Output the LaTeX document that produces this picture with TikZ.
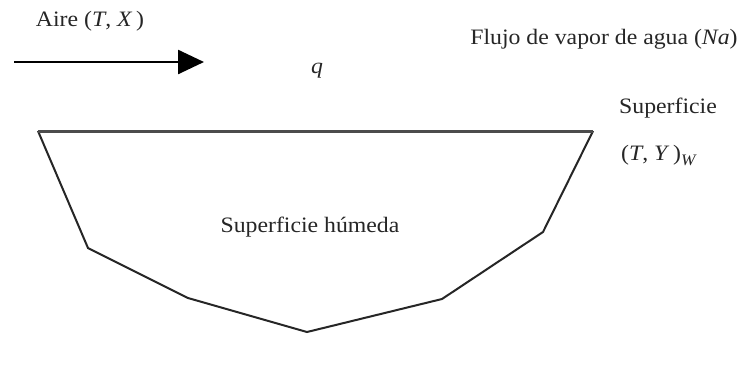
\documentclass[tikz,border=0pt]{standalone}
\usepackage{fontspec}
\setmainfont[FakeStretch=1.08]{Liberation Serif}
\usetikzlibrary{arrows.meta}
\begin{document}
\begin{tikzpicture}[x=1pt,y=-1pt,
  lbl/.style={font=\fontsize{22}{26}\selectfont, text=black!85, inner sep=0pt},
  edge/.style={line width=2pt, draw=black!85, line join=miter}]
\useasboundingbox (0,0) rectangle (749,365);
\fill[white] (0,0) rectangle (749,365);
% arrow
\coordinate (a0) at (14,62);
\coordinate (a1) at (204,62);
\draw[line width=2.6pt, -{Triangle[length=26pt,width=24pt]}] (a0) -- (a1);
\node[lbl] (aire) at (90,21) {Aire (\textit{T},\ \textit{X}\,)};
\node[lbl] (q) at (317,71) {\textit{q}};
\node[lbl] (flujo) at (604,39) {Flujo de vapor de agua (\textit{Na})};
\node[lbl] (sup) at (668,108) {Superficie};
\node[lbl, anchor=west] (ty) at (621,155) {(\textit{T},\ \textit{Y}\,)\raisebox{-5pt}{\fontsize{16}{18}\selectfont\textit{W}}};
\node[lbl] (hum) at (310,227) {Superficie húmeda};
% vessel
\coordinate (p1) at (38,131);
\coordinate (p2) at (88,248);
\coordinate (p3) at (188,298);
\coordinate (p4) at (307,332);
\coordinate (p5) at (442,299);
\coordinate (p6) at (543,232);
\coordinate (p7) at (593,131);
\draw[edge] (p1) -- (p2) -- (p3) -- (p4) -- (p5) -- (p6) -- (p7);
\draw[line width=3pt, draw=black!70] (p1) -- (p7);
\end{tikzpicture}
\end{document}
